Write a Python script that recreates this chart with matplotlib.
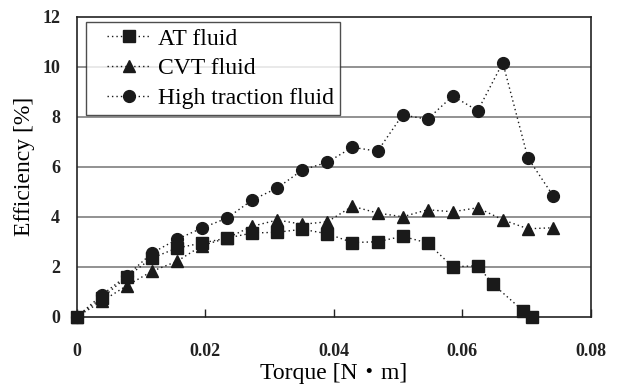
import matplotlib
matplotlib.use('agg')
import matplotlib.pyplot as plt
from matplotlib.legend_handler import HandlerLine2D

# torque [N*m] and efficiency [%]
torque = [0, 0.0039, 0.0078, 0.0117, 0.0156, 0.0195, 0.0234, 0.0273, 0.0312, 0.0351,
          0.039, 0.0429, 0.0468, 0.0507, 0.0546, 0.0585, 0.0624, 0.0663, 0.0702, 0.0741]
torque_at = [0, 0.0039, 0.0078, 0.0117, 0.0156, 0.0195, 0.0234, 0.0273, 0.0312, 0.0351,
             0.039, 0.0429, 0.0468, 0.0507, 0.0546, 0.0585, 0.0624, 0.0648, 0.0695, 0.0708]

eff_at = [0, 0.75, 1.6, 2.35, 2.75, 2.95, 3.15, 3.35, 3.38, 3.5,
          3.32, 2.97, 3.0, 3.22, 2.95, 2.0, 2.04, 1.3, 0.23, 0.0]
eff_cvt = [0, 0.62, 1.25, 1.82, 2.22, 2.85, 3.15, 3.62, 3.87, 3.7,
           3.8, 4.42, 4.15, 4.0, 4.28, 4.2, 4.36, 3.88, 3.52, 3.56]
eff_high = [0, 0.87, 1.65, 2.55, 3.1, 3.55, 3.95, 4.67, 5.15, 5.87,
            6.18, 6.78, 6.62, 8.07, 7.9, 8.83, 8.24, 10.16, 6.36, 4.85]

labels = ['AT fluid', 'CVT fluid', 'High traction fluid']
xticks = [0, 0.02, 0.04, 0.06, 0.08]
xticklabels = ['0', '0.02', '0.04', '0.06', '0.08']
yticks = [0, 2, 4, 6, 8, 10, 12]

serif = 'Liberation Serif'
ink = '#1a1a1a'


class ShortHandle(HandlerLine2D):
    # legend line only on the right part of the handle box (leaves a left margin)
    def get_xdata(self, legend, xdescent, ydescent, width, height, fontsize):
        x0 = -xdescent + width * 0.25
        x1 = -xdescent + width
        return [x0, x1], [(x0 + x1) / 2]


fig = plt.figure(figsize=(6.18, 3.89), dpi=100)
ax = fig.add_axes([0.1243, 0.1856, 0.8317, 0.7715])

common = dict(color=ink, linestyle=(0, (1, 2.2)), linewidth=1.0, clip_on=False)
l_high, = ax.plot(torque, eff_high, marker='o', markersize=8.5, zorder=3, **common)
l_cvt, = ax.plot(torque, eff_cvt, marker='^', markersize=8.5, zorder=4, **common)
l_at, = ax.plot(torque_at, eff_at, marker='s', markersize=8.0, zorder=5, **common)

ax.set_xlim(0, 0.08)
ax.set_ylim(0, 12)
ax.set_xticks(xticks)
ax.set_xticklabels(xticklabels)
ax.set_yticks(yticks)

# gray horizontal gridlines
for y in yticks[1:-1]:
    ax.axhline(y, color='#7f7f7f', linewidth=1.2, zorder=1)

for s in ax.spines.values():
    s.set_color('#222222')
    s.set_linewidth(1.2)

ax.tick_params(axis='x', direction='in', length=6, width=1, pad=19, colors='#222222')
ax.tick_params(axis='y', length=0, pad=12)
for lab in ax.get_xticklabels() + ax.get_yticklabels():
    lab.set_fontfamily(serif)
    lab.set_fontweight('bold')
    lab.set_fontsize(13)
    lab.set_color('#222222')

ax.set_xlabel('Torque [N\u30fbm]', fontsize=17, family=[serif, 'Noto Sans CJK JP'],
              labelpad=2)
ax.set_ylabel('Efficiency [%]', fontsize=17, family=serif, labelpad=5)

h = ShortHandle()
leg = ax.legend([l_at, l_cvt, l_high], labels, loc='upper left',
                bbox_to_anchor=(0.018, 0.982), prop={'family': serif, 'size': 17},
                frameon=True, fancybox=False, handlelength=2.5, handletextpad=0.3,
                labelspacing=0.35, borderpad=0.25, borderaxespad=0,
                handler_map={l_at: h, l_cvt: h, l_high: h})
leg.get_frame().set_edgecolor('#222222')
leg.get_frame().set_linewidth(1.0)
leg.set_zorder(10)

plt.savefig('out.png', dpi=100)
